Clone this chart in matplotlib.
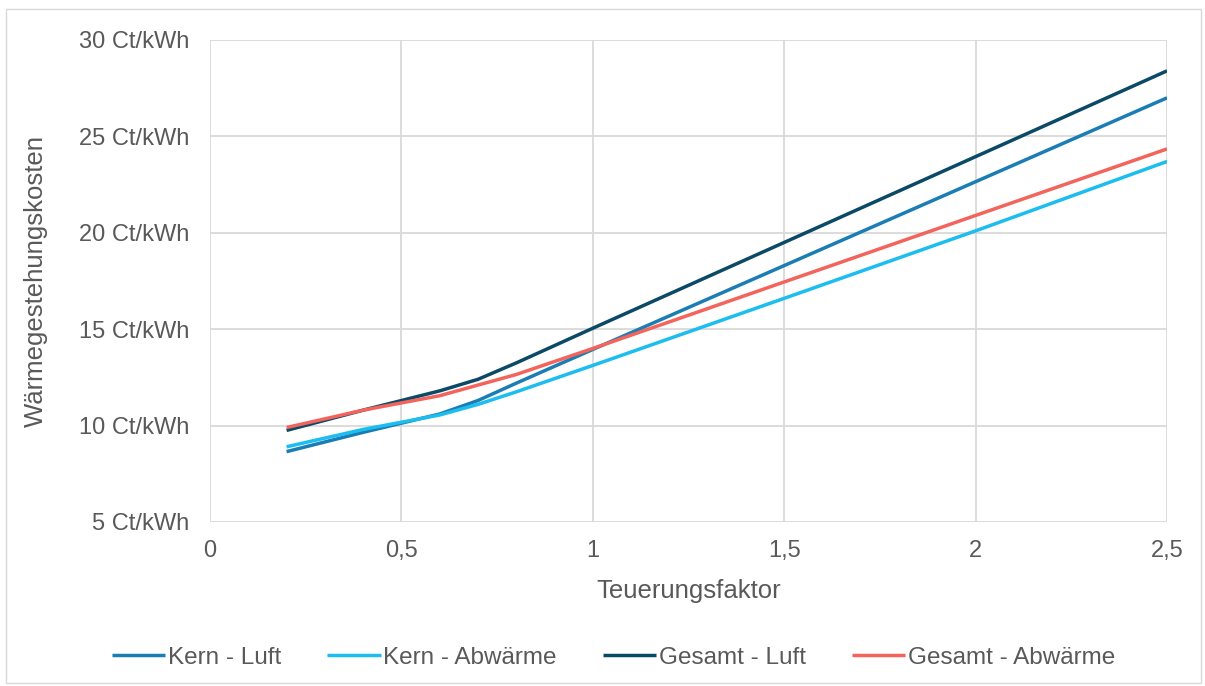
import matplotlib.pyplot as plt
from matplotlib.patches import Rectangle

plt.rcParams["font.family"] = ["Liberation Sans", "DejaVu Sans"]

faktor = [0.2, 0.4, 0.6, 0.7, 0.8, 1.0, 1.5, 2.0, 2.5]
kern_luft = [8.65, 9.65, 10.6, 11.3, 12.2, 13.95, 18.3, 22.65, 27.0]
kern_abwaerme = [8.9, 9.8, 10.55, 11.1, 11.75, 13.12, 16.6, 20.1, 23.7]
gesamt_luft = [9.75, 10.8, 11.8, 12.4, 13.25, 15.05, 19.5, 23.95, 28.4]
gesamt_abwaerme = [9.9, 10.8, 11.55, 12.1, 12.65, 14.0, 17.45, 20.9, 24.35]

x_ticks = [0, 0.5, 1, 1.5, 2, 2.5]
x_ticklabels = ["0", "0,5", "1", "1,5", "2", "2,5"]
y_ticks = [5, 10, 15, 20, 25, 30]
y_ticklabels = [f"{v} Ct/kWh" for v in y_ticks]

SERIES = [
    ("Kern - Luft", kern_luft, "#1a7db3"),
    ("Kern - Abwärme", kern_abwaerme, "#1cbdef"),
    ("Gesamt - Luft", gesamt_luft, "#0b4a66"),
    ("Gesamt - Abwärme", gesamt_abwaerme, "#f2645c"),
]
TEXT = "#595959"

fig = plt.figure(figsize=(12.05, 6.86), dpi=100)
ax = fig.add_axes([0.1743, 0.2391, 0.7942, 0.7026])

for name, vals, col in SERIES:
    ax.plot(faktor, vals, color=col, lw=2.5, label=name, solid_capstyle="butt")

ax.set_xlim(0, 2.5)
ax.set_ylim(5, 30)
ax.set_xticks(x_ticks)
ax.set_xticklabels(x_ticklabels)
ax.set_yticks(y_ticks)
ax.set_yticklabels(y_ticklabels)
ax.grid(True, color="#d9d9d9", lw=1.3)
ax.set_axisbelow(True)
for s in ax.spines.values():
    s.set_visible(False)
ax.tick_params(length=0, labelsize=17, colors=TEXT)
ax.tick_params(axis="x", pad=13)
ax.tick_params(axis="y", pad=15)
ax.set_xlabel("Teuerungsfaktor", fontsize=18.5, color=TEXT, labelpad=12)
ax.set_ylabel("Wärmegestehungskosten", fontsize=18.5, color=TEXT, labelpad=22)

ax.legend(loc="center", bbox_to_anchor=(0.509, 0.041), bbox_transform=fig.transFigure,
          ncol=4, frameon=False, fontsize=17.5, handlelength=2.2, handletextpad=0.1,
          columnspacing=1.9, labelcolor=TEXT)

fig.patches.append(Rectangle((0.005, 0.004), 0.992, 0.983, transform=fig.transFigure,
                             fill=False, edgecolor="#d9d9d9", lw=1))

fig.savefig("out.png", dpi=100)
